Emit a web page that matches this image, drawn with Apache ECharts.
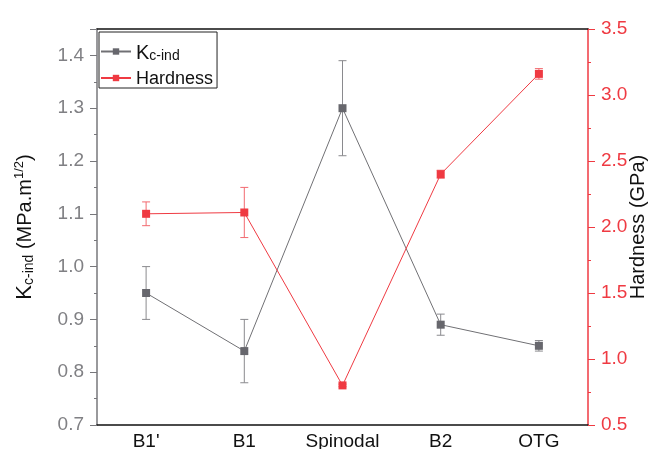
<!DOCTYPE html>
<html><head><meta charset="utf-8">
<script src="https://cdn.jsdelivr.net/npm/echarts@6/dist/echarts.min.js"></script>
<style>html,body{margin:0;padding:0;background:#fff}#c{width:653px;height:449px}</style>
</head><body><div id="c"></div>
<script>
const categories = ["B1'", "B1", "Spinodal", "B2", "OTG"];
const kcValues = [0.95, 0.84, 1.30, 0.89, 0.85];
const kcErr = [0.05, 0.06, 0.09, 0.02, 0.01];
const hardValues = [2.10, 2.11, 0.80, 2.40, 3.16];
const hardErr = [0.09, 0.19, 0.01, 0.03, 0.04];
const leftTicks = [0.7, 1.45, 0.1];
const rightTicks = [0.5, 3.5, 0.5];

const GRAY = '#67676d', RED = '#ef3a42';
const FONT = 'Liberation Sans, Arial, sans-serif';

function errData(vals, errs) { return vals.map((v, i) => [i, v - errs[i], v + errs[i]]); }
function errSeries(vals, errs, yIdx, color) {
  return {
    type: 'custom', yAxisIndex: yIdx, z: 1, silent: true,
    data: errData(vals, errs),
    renderItem: function (params, api) {
      const x = api.value(0);
      const lo = api.coord([x, api.value(1)]);
      const hi = api.coord([x, api.value(2)]);
      const w = 4;
      const st = { stroke: color, lineWidth: 1 };
      return { type: 'group', children: [
        { type: 'line', shape: { x1: lo[0], y1: lo[1], x2: hi[0], y2: hi[1] }, style: st },
        { type: 'line', shape: { x1: lo[0] - w, y1: lo[1], x2: lo[0] + w, y2: lo[1] }, style: st },
        { type: 'line', shape: { x1: hi[0] - w, y1: hi[1], x2: hi[0] + w, y2: hi[1] }, style: st }
      ]};
    }
  };
}

const chart = echarts.init(document.getElementById('c'));
const catBase = { type: 'category', data: categories, boundaryGap: true };
chart.setOption({
  animation: false,
  textStyle: { fontFamily: FONT },
  grid: { left: 97, right: 65, top: 29, bottom: 24, containLabel: false, outerBoundsMode: 'none' },
  legend: {
    left: 99, top: 32, orient: 'vertical', itemWidth: 30, itemHeight: 8, itemGap: 7,
    padding: [11, 4, 0, 1], borderColor: '#222', borderWidth: 1, backgroundColor: '#fff',
    data: ['Kc', 'Hardness'],
    formatter: function (n) { return n === 'Kc' ? '{k|K}{s|c-ind}' : '{h|Hardness}'; },
    textStyle: { color: '#111', fontFamily: FONT, rich: {
      k: { fontSize: 20, color: '#111', fontFamily: FONT, verticalAlign: 'bottom' },
      s: { fontSize: 14, color: '#111', fontFamily: FONT, padding: [9, 0, 0, 0] },
      h: { fontSize: 18, color: '#111', fontFamily: FONT, padding: [2, 0, 0, 0] }
    } }
  },
  xAxis: [
    Object.assign({}, catBase, { position: 'bottom',
      axisLine: { lineStyle: { color: '#111', width: 1.5 } },
      axisTick: { alignWithLabel: true, length: 6, lineStyle: { color: '#111' } },
      axisLabel: { color: '#111', fontSize: 19, margin: 7, fontFamily: FONT } }),
    Object.assign({}, catBase, { position: 'bottom',
      axisLine: { show: false },
      axisTick: { length: 3, lineStyle: { color: '#111' } },
      axisLabel: { show: false } }),
    Object.assign({}, catBase, { position: 'top',
      axisLine: { lineStyle: { color: '#111', width: 1.5 } },
      axisTick: { alignWithLabel: true, inside: true, length: 6, lineStyle: { color: '#111' } },
      axisLabel: { show: false } }),
    Object.assign({}, catBase, { position: 'top',
      axisLine: { show: false },
      axisTick: { inside: true, length: 3, lineStyle: { color: '#111' } },
      axisLabel: { show: false } })
  ],
  yAxis: [
    { type: 'value', position: 'left', min: leftTicks[0], max: leftTicks[1], interval: leftTicks[2],
      splitLine: { show: false },
      axisLine: { show: true, lineStyle: { color: '#77777b', width: 1.5 } },
      axisTick: { show: true, length: 7, lineStyle: { color: '#77777b' } },
      minorTick: { show: true, splitNumber: 2, length: 3, lineStyle: { color: '#77777b' } },
      axisLabel: { color: '#808084', fontSize: 19, margin: 13, showMaxLabel: false, fontFamily: FONT,
        formatter: v => v.toFixed(1) },
      name: '{k|K}{s|c-ind}{n| (MPa.m}{p|1/2}{n|)}', nameLocation: 'middle', nameRotate: 90, nameGap: 60,
      nameTextStyle: { rich: {
        k: { fontSize: 22, color: '#111', fontFamily: FONT },
        s: { fontSize: 14, color: '#111', fontFamily: FONT, padding: [9, 0, 0, 0] },
        n: { fontSize: 20, color: '#111', fontFamily: FONT },
        p: { fontSize: 13, color: '#111', fontFamily: FONT, padding: [0, 0, 11, 0] }
      } } },
    { type: 'value', position: 'right', min: rightTicks[0], max: rightTicks[1], interval: rightTicks[2],
      splitLine: { show: false },
      axisLine: { show: true, lineStyle: { color: RED, width: 1.5 } },
      axisTick: { show: true, length: 7, lineStyle: { color: RED } },
      minorTick: { show: true, splitNumber: 2, length: 3, lineStyle: { color: RED } },
      axisLabel: { color: RED, fontSize: 19, margin: 13, fontFamily: FONT, formatter: v => v.toFixed(1) },
      name: 'Hardness (GPa)', nameLocation: 'middle', nameRotate: 90, nameGap: 40, nameMoveOverlap: false,
      nameTextStyle: { color: '#111', fontSize: 20, fontFamily: FONT } }
  ],
  series: [
    errSeries(kcValues, kcErr, 0, '#8a8a8e'),
    errSeries(hardValues, hardErr, 1, '#f26a70'),
    { name: 'Kc', type: 'line', yAxisIndex: 0, data: kcValues, z: 3,
      symbol: 'rect', symbolSize: 8,
      lineStyle: { color: '#707074', width: 1 }, itemStyle: { color: GRAY } },
    { name: 'Hardness', type: 'line', yAxisIndex: 1, data: hardValues, z: 3,
      symbol: 'rect', symbolSize: 8,
      lineStyle: { color: RED, width: 1 }, itemStyle: { color: RED } }
  ]
});
</script></body></html>
